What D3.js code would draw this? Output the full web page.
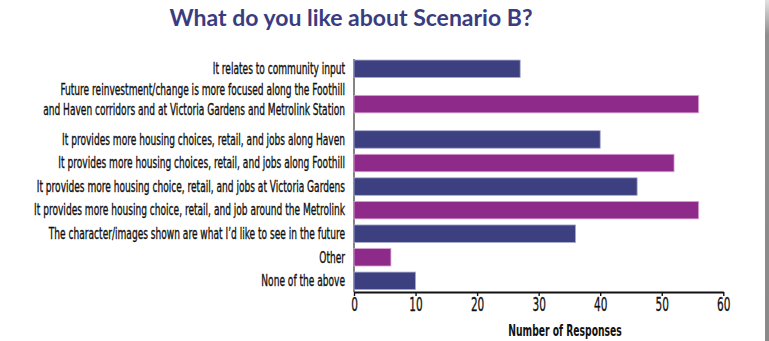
<!DOCTYPE html>
<html>
<head>
<meta charset="utf-8">
<script src="https://cdn.jsdelivr.net/npm/d3@7"></script>
<style>
  html, body { margin: 0; padding: 0; background: #ffffff; }
  svg { display: block; }
</style>
</head>
<body>
<svg id="chart" width="769" height="341"></svg>
<script>
// Survey answers, top to bottom ("\n" splits a label over two lines)
const categories = [
  "It relates to community input",
  "Future reinvestment/change is more focused along the Foothill\nand Haven corridors and at Victoria Gardens and Metrolink Station",
  "It provides more housing choices, retail, and jobs along Haven",
  "It provides more housing choices, retail, and jobs along Foothill",
  "It provides more housing choice, retail, and jobs at Victoria Gardens",
  "It provides more housing choice, retail, and job around the Metrolink",
  "The character/images shown are what I\u2019d like to see in the future",
  "Other",
  "None of the above"
];
const responses = [27, 56, 40, 52, 46, 56, 36, 6, 10];
const tickValues = [0, 10, 20, 30, 40, 50, 60];
const barColors = ["#3c3f80", "#8e2a8a"];
const barEdges = ["#a9abd0", "#d9a6d6"];

const titleText = "What do you like about Scenario B?";
const xTitle = "Number of Responses";

const svg = d3.select("#chart");
const labelFont = "'DejaVu Sans Condensed', 'Liberation Sans Narrow', sans-serif";

// Rows are sized by how many label lines they carry
const rows = categories.map((c, i) => ({ label: c, lines: c.split("\n"), value: responses[i], index: i }));
let cum = 0;
rows.forEach(r => { r.start = cum; r.weight = r.lines.length; cum += r.weight; });
const totalWeight = cum;

const x = d3.scaleLinear().domain([0, 60]).range([354, 723.3]);
const y = d3.scaleLinear().domain([0, totalWeight]).range([57, 292.6]);
const barH = 17.5;
const baseY = 292;

// Title
svg.append("text")
  .attr("x", 351).attr("y", 26)
  .attr("text-anchor", "middle")
  .attr("font-family", "Lato, 'Open Sans', sans-serif")
  .attr("font-weight", 700)
  .attr("font-size", 23)
  .attr("fill", "#3a3c80")
  .text(titleText);

// Left axis line
svg.append("line")
  .attr("x1", x(0)).attr("x2", x(0))
  .attr("y1", y(0) + 2).attr("y2", baseY)
  .attr("stroke", "#333").attr("stroke-width", 1.2);

// Bars
svg.append("g").selectAll("rect")
  .data(rows)
  .join("rect")
  .attr("x", x(0))
  .attr("y", d => y(d.start + d.weight / 2) - barH / 2)
  .attr("width", d => x(d.value) - x(0))
  .attr("height", barH)
  .attr("fill", d => barColors[d.index % 2])
  .attr("stroke", d => barEdges[d.index % 2])
  .attr("stroke-width", 0.8);

// Category labels
const labels = svg.append("g").selectAll("g")
  .data(rows)
  .join("g")
  .attr("transform", d => `translate(345,${y(d.start + d.weight / 2)})`);
labels.each(function(d) {
  const g = d3.select(this);
  const n = d.lines.length;
  d.lines.forEach((line, k) => {
    const off = n > 1 ? (k - (n - 1) / 2) * 20 + 0.6 : 5.3;
    g.append("text")
      .attr("transform", `translate(0,${off}) scale(0.655,1)`)
      .attr("text-anchor", "end")
      .attr("font-family", labelFont)
      .attr("font-size", 15.4)
      .attr("fill", "#111")
      .attr("stroke", "#111")
      .attr("stroke-width", 0.35)
      .text(line);
  });
});

// Bottom axis
const xAxis = d3.axisBottom(x).tickValues(tickValues).tickSize(4).tickSizeOuter(0).tickFormat(d3.format("d"));
const ax = svg.append("g").attr("transform", `translate(0,${baseY})`).call(xAxis);
ax.select(".domain").attr("stroke", "#111").attr("stroke-width", 1.8);
ax.selectAll(".tick line").attr("stroke", "#111").attr("stroke-width", 1.4);
ax.selectAll(".tick text")
  .attr("y", 0).attr("dy", null)
  .attr("transform", "translate(0,18.7) scale(0.6,1)")
  .attr("font-family", labelFont)
  .attr("font-size", 19.5)
  .attr("fill", "#111")
  .attr("stroke", "#111")
  .attr("stroke-width", 0.3);

// Axis title
svg.append("text")
  .attr("transform", `translate(565,335.5) scale(0.665,1)`)
  .attr("text-anchor", "middle")
  .attr("font-family", labelFont)
  .attr("font-weight", 700)
  .attr("font-size", 15.4)
  .attr("fill", "#111")
  .text(xTitle);

// Grey frame edge on the right
const grad = svg.append("defs").append("linearGradient")
  .attr("id", "edge").attr("x1", 0).attr("x2", 0).attr("y1", 0).attr("y2", 1);
grad.append("stop").attr("offset", "0").attr("stop-color", "#e2e2e2");
grad.append("stop").attr("offset", "0.1").attr("stop-color", "#8f8f8f");
grad.append("stop").attr("offset", "1").attr("stop-color", "#8a8a8a");
svg.append("rect").attr("x", 765).attr("y", 0).attr("width", 4).attr("height", 341).attr("fill", "url(#edge)");
</script>
</body>
</html>
